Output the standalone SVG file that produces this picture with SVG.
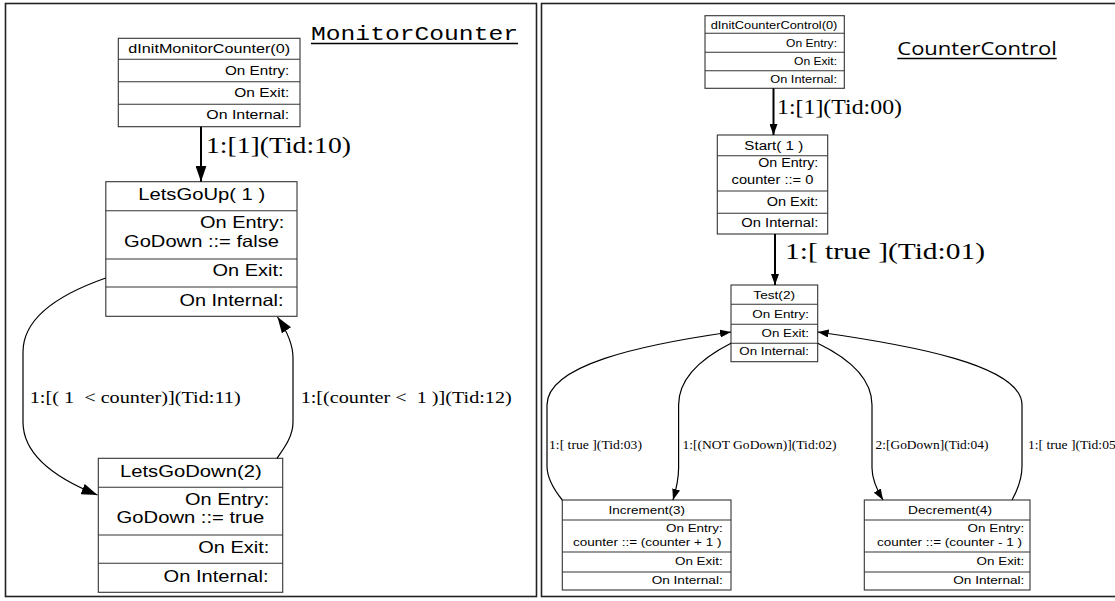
<svg xmlns="http://www.w3.org/2000/svg" width="1115" height="601" viewBox="0 0 1115 601">
<style>
.panel{fill:#fff;stroke:#222;stroke-width:1.6}
.box{fill:#fff;stroke:#333;stroke-width:1.1}
.sep{stroke:#333;stroke-width:1.1}
.n{font-family:"Liberation Sans",Arial,sans-serif;fill:#000}
.e{font-family:"Liberation Serif","Times New Roman",serif;fill:#000}
.c{text-anchor:middle}
.r{text-anchor:end}
.edge{fill:none;stroke:#000;stroke-width:1.2}
.thick{stroke-width:2}
</style>
<defs>
<marker id="ahL" markerUnits="userSpaceOnUse" viewBox="0 0 16 11" markerWidth="16" markerHeight="11" refX="16" refY="5.5" orient="auto"><path d="M0,0 L16,5.5 L0,11 z" fill="#000"/></marker>
<marker id="ahR" markerUnits="userSpaceOnUse" viewBox="0 0 11 8" markerWidth="11" markerHeight="8" refX="11" refY="4" orient="auto"><path d="M0,0 L11,4 L0,8 z" fill="#000"/></marker>
</defs>
<rect x="0" y="0" width="1115" height="601" fill="#fff"/>
<g id="panels">
<rect class="panel" x="5.5" y="3.5" width="531" height="593"/>
<rect class="panel" x="541.5" y="3.5" width="590" height="593"/>
</g>

<!-- LEFT PANEL -->
<g id="title-MonitorCounter">
<text x="311" y="39.5" font-family="'Liberation Mono','Courier New',monospace" font-size="20" textLength="207" lengthAdjust="spacingAndGlyphs">MonitorCounter</text>
<line x1="311" y1="43.5" x2="518" y2="43.5" stroke="#000" stroke-width="1.4"/>
</g>

<g id="dInitMonitorCounter">
<rect class="box" x="118.3" y="38.3" width="181.7" height="88.4"/>
<line class="sep" x1="118.3" y1="59.3" x2="300" y2="59.3"/>
<line class="sep" x1="118.3" y1="81.7" x2="300" y2="81.7"/>
<line class="sep" x1="118.3" y1="104.3" x2="300" y2="104.3"/>
<text class="n c" x="209.2" y="53" font-size="13" textLength="161.7" lengthAdjust="spacingAndGlyphs">dInitMonitorCounter(0)</text>
<text class="n r" x="289.3" y="74.5" font-size="13" textLength="64.3" lengthAdjust="spacingAndGlyphs">On Entry:</text>
<text class="n r" x="289.3" y="97" font-size="13" textLength="55" lengthAdjust="spacingAndGlyphs">On Exit:</text>
<text class="n r" x="289.3" y="119" font-size="13" textLength="83" lengthAdjust="spacingAndGlyphs">On Internal:</text>
</g>

<g id="LetsGoUp">
<rect class="box" x="105.8" y="181.7" width="191.2" height="134.6"/>
<line class="sep" x1="105.8" y1="210.7" x2="297" y2="210.7"/>
<line class="sep" x1="105.8" y1="259" x2="297" y2="259"/>
<line class="sep" x1="105.8" y1="287" x2="297" y2="287"/>
<text class="n c" x="201.7" y="200" font-size="16.5" textLength="127" lengthAdjust="spacingAndGlyphs">LetsGoUp( 1 )</text>
<text class="n r" x="284.3" y="228.3" font-size="16.5" textLength="84.3" lengthAdjust="spacingAndGlyphs">On Entry:</text>
<text class="n r" x="279" y="247.3" font-size="16.5" textLength="155" lengthAdjust="spacingAndGlyphs">GoDown ::= false</text>
<text class="n r" x="283.5" y="275.7" font-size="16.5" textLength="71" lengthAdjust="spacingAndGlyphs">On Exit:</text>
<text class="n r" x="283.5" y="305.5" font-size="16.5" textLength="104" lengthAdjust="spacingAndGlyphs">On Internal:</text>
</g>

<g id="LetsGoDown">
<rect class="box" x="98.3" y="458.3" width="184.4" height="134"/>
<line class="sep" x1="98.3" y1="487.3" x2="282.7" y2="487.3"/>
<line class="sep" x1="98.3" y1="535" x2="282.7" y2="535"/>
<line class="sep" x1="98.3" y1="563.3" x2="282.7" y2="563.3"/>
<text class="n c" x="190.8" y="476.7" font-size="16.5" textLength="141.7" lengthAdjust="spacingAndGlyphs">LetsGoDown(2)</text>
<text class="n r" x="269.3" y="505" font-size="16.5" textLength="84.3" lengthAdjust="spacingAndGlyphs">On Entry:</text>
<text class="n r" x="264.3" y="523.3" font-size="16.5" textLength="147.7" lengthAdjust="spacingAndGlyphs">GoDown ::= true</text>
<text class="n r" x="269.3" y="553.3" font-size="16.5" textLength="71" lengthAdjust="spacingAndGlyphs">On Exit:</text>
<text class="n r" x="268.5" y="581.7" font-size="16.5" textLength="105" lengthAdjust="spacingAndGlyphs">On Internal:</text>
</g>

<!-- RIGHT PANEL -->
<g id="title-CounterControl">
<text x="897.3" y="55" font-family="'Open Sans','Noto Sans',sans-serif" font-size="18.5" textLength="159.4" lengthAdjust="spacingAndGlyphs">CounterControl</text>
<line x1="897.3" y1="58.5" x2="1056.7" y2="58.5" stroke="#000" stroke-width="1.3"/>
</g>

<g id="dInitCounterControl">
<rect class="box" x="705" y="15.7" width="139.3" height="72.6"/>
<line class="sep" x1="705" y1="33.3" x2="844.3" y2="33.3"/>
<line class="sep" x1="705" y1="52.3" x2="844.3" y2="52.3"/>
<line class="sep" x1="705" y1="70.7" x2="844.3" y2="70.7"/>
<text class="n c" x="774" y="28.7" font-size="10.5" textLength="126.7" lengthAdjust="spacingAndGlyphs">dInitCounterControl(0)</text>
<text class="n r" x="837" y="46.7" font-size="10.5" textLength="51" lengthAdjust="spacingAndGlyphs">On Entry:</text>
<text class="n r" x="837" y="65" font-size="10.5" textLength="43" lengthAdjust="spacingAndGlyphs">On Exit:</text>
<text class="n r" x="837" y="83.3" font-size="10.5" textLength="66.7" lengthAdjust="spacingAndGlyphs">On Internal:</text>
</g>

<g id="Start">
<rect class="box" x="717.3" y="135" width="110.4" height="99"/>
<line class="sep" x1="717.3" y1="155.7" x2="827.7" y2="155.7"/>
<line class="sep" x1="717.3" y1="191" x2="827.7" y2="191"/>
<line class="sep" x1="717.3" y1="213.3" x2="827.7" y2="213.3"/>
<text class="n c" x="773.8" y="150" font-size="12.5" textLength="59" lengthAdjust="spacingAndGlyphs">Start( 1 )</text>
<text class="n r" x="818.3" y="166.7" font-size="12.5" textLength="60" lengthAdjust="spacingAndGlyphs">On Entry:</text>
<text class="n r" x="813.3" y="184" font-size="12.5" textLength="81.7" lengthAdjust="spacingAndGlyphs">counter ::= 0</text>
<text class="n r" x="818.3" y="205.5" font-size="12.5" textLength="51.6" lengthAdjust="spacingAndGlyphs">On Exit:</text>
<text class="n r" x="818.3" y="226.5" font-size="12.5" textLength="77" lengthAdjust="spacingAndGlyphs">On Internal:</text>
</g>

<g id="Test">
<rect class="box" x="731" y="285" width="86.7" height="76.7"/>
<line class="sep" x1="731" y1="304.3" x2="817.7" y2="304.3"/>
<line class="sep" x1="731" y1="324.3" x2="817.7" y2="324.3"/>
<line class="sep" x1="731" y1="343.3" x2="817.7" y2="343.3"/>
<text class="n c" x="774.2" y="299" font-size="11" textLength="41.7" lengthAdjust="spacingAndGlyphs">Test(2)</text>
<text class="n r" x="809" y="318.3" font-size="11" textLength="56.7" lengthAdjust="spacingAndGlyphs">On Entry:</text>
<text class="n r" x="809" y="336.5" font-size="11" textLength="47.5" lengthAdjust="spacingAndGlyphs">On Exit:</text>
<text class="n r" x="809" y="355" font-size="11" textLength="69.7" lengthAdjust="spacingAndGlyphs">On Internal:</text>
</g>

<g id="Increment">
<rect class="box" x="562.3" y="500" width="168.7" height="90"/>
<line class="sep" x1="562.3" y1="520" x2="731" y2="520"/>
<line class="sep" x1="562.3" y1="552" x2="731" y2="552"/>
<line class="sep" x1="562.3" y1="572" x2="731" y2="572"/>
<text class="n c" x="646.7" y="513.8" font-size="11" textLength="76.5" lengthAdjust="spacingAndGlyphs">Increment(3)</text>
<text class="n r" x="722.7" y="531.7" font-size="11" textLength="56.7" lengthAdjust="spacingAndGlyphs">On Entry:</text>
<text class="n r" x="721.5" y="545.5" font-size="11" textLength="148.5" lengthAdjust="spacingAndGlyphs">counter ::= (counter + 1 )</text>
<text class="n r" x="722.7" y="564.5" font-size="11" textLength="47.7" lengthAdjust="spacingAndGlyphs">On Exit:</text>
<text class="n r" x="722.7" y="584" font-size="11" textLength="71" lengthAdjust="spacingAndGlyphs">On Internal:</text>
</g>

<g id="Decrement">
<rect class="box" x="864.3" y="500" width="165.7" height="90"/>
<line class="sep" x1="864.3" y1="520" x2="1030" y2="520"/>
<line class="sep" x1="864.3" y1="552" x2="1030" y2="552"/>
<line class="sep" x1="864.3" y1="572" x2="1030" y2="572"/>
<text class="n c" x="950" y="513.8" font-size="11" textLength="84" lengthAdjust="spacingAndGlyphs">Decrement(4)</text>
<text class="n r" x="1024.3" y="531.7" font-size="11" textLength="56.7" lengthAdjust="spacingAndGlyphs">On Entry:</text>
<text class="n r" x="1022" y="545.5" font-size="11" textLength="145" lengthAdjust="spacingAndGlyphs">counter ::= (counter - 1 )</text>
<text class="n r" x="1024.3" y="564.5" font-size="11" textLength="47.7" lengthAdjust="spacingAndGlyphs">On Exit:</text>
<text class="n r" x="1024.3" y="584" font-size="11" textLength="71" lengthAdjust="spacingAndGlyphs">On Internal:</text>
</g>

<g id="connectors">
<g id="e10">
<line class="edge thick" x1="201" y1="126.7" x2="201" y2="181.7" marker-end="url(#ahL)"/>
<text class="e" x="206" y="153" font-size="24" textLength="145" lengthAdjust="spacingAndGlyphs">1:[1](Tid:10)</text>
</g>
<g id="e11">
<path class="edge" d="M105.8,278 C60,294 23,318 23,352 L23,422 C23,455 55,478 97.5,495" marker-end="url(#ahL)"/>
<text class="e" x="29.7" y="403" font-size="17" textLength="211" lengthAdjust="spacingAndGlyphs" xml:space="preserve">1:[( 1  &lt; counter)](Tid:11)</text>
</g>
<g id="e12">
<path class="edge" d="M277,458.3 C285,447 293,436 293,422 L293,358 C293,344 287,331 277.5,317" marker-end="url(#ahL)"/>
<text class="e" x="300.7" y="403" font-size="17" textLength="211" lengthAdjust="spacingAndGlyphs" xml:space="preserve">1:[(counter &lt;  1 )](Tid:12)</text>
</g>
<g id="e00">
<line class="edge thick" x1="773.5" y1="88.3" x2="773.5" y2="135" marker-end="url(#ahR)"/>
<text class="e" x="777" y="114" font-size="20" textLength="125" lengthAdjust="spacingAndGlyphs">1:[1](Tid:00)</text>
</g>
<g id="e01">
<line class="edge thick" x1="775" y1="234" x2="775" y2="285" marker-end="url(#ahR)"/>
<text class="e" x="785" y="259" font-size="23" textLength="200" lengthAdjust="spacingAndGlyphs" xml:space="preserve">1:[ true ](Tid:01)</text>
</g>
<g id="e03">
<path class="edge" d="M562.3,500 C555,491 547,479 547,466 L547,405 C547,365 640,345 731,332" marker-end="url(#ahR)"/>
<text class="e" x="549" y="449" font-size="11.5" textLength="93" lengthAdjust="spacingAndGlyphs" xml:space="preserve">1:[ true ](Tid:03)</text>
</g>
<g id="e02">
<path class="edge" d="M731,343.3 C702,358 678.6,378 678.6,405 L678.6,468 C678.6,480 676,490 673,500" marker-end="url(#ahR)"/>
<text class="e" x="682.5" y="449" font-size="11.5" textLength="154" lengthAdjust="spacingAndGlyphs">1:[(NOT GoDown)](Tid:02)</text>
</g>
<g id="e04">
<path class="edge" d="M817.7,343.3 C848,358 872,378 872,405 L872,468 C872,480 877,490 883,500" marker-end="url(#ahR)"/>
<text class="e" x="875.5" y="449" font-size="11.5" textLength="113" lengthAdjust="spacingAndGlyphs">2:[GoDown](Tid:04)</text>
</g>
<g id="e05">
<path class="edge" d="M1012,500 C1017,491 1022,479 1022,466 L1022,405 C1022,365 910,345 817.7,332" marker-end="url(#ahR)"/>
<text class="e" x="1028" y="449" font-size="11.5" textLength="87.7" lengthAdjust="spacingAndGlyphs" xml:space="preserve">1:[ true ](Tid:05</text>
</g>
</g>
</svg>
